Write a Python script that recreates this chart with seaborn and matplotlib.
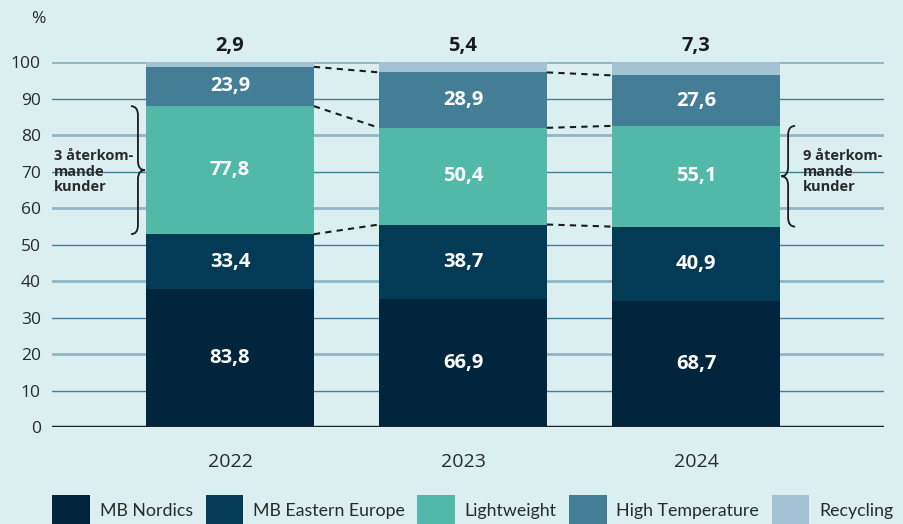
import numpy as np
import pandas as pd
import matplotlib.pyplot as plt
import seaborn as sns
from matplotlib.path import Path
from matplotlib.patches import PathPatch, Patch

# Data
years = [2022, 2023, 2024]
segments = ['MB Nordics', 'MB Eastern Europe', 'Lightweight', 'High Temperature', 'Recycling']
mb_nordics = [83.8, 66.9, 68.7]
mb_eastern = [33.4, 38.7, 40.9]
lightweight = [77.8, 50.4, 55.1]
high_temp = [23.9, 28.9, 27.6]
recycling = [2.9, 5.4, 7.3]
colors = ['#00253c', '#033a55', '#52b8a7', '#437d96', '#a3c2d3']

values = np.array([mb_nordics, mb_eastern, lightweight, high_temp, recycling])
pct = values / values.sum(axis=0) * 100
cum = np.cumsum(pct, axis=0)

rows = []
for i, seg in enumerate(segments):
    for j, yr in enumerate(years):
        rows.append({'year': yr, 'segment': seg, 'pct': pct[i, j]})
df = pd.DataFrame(rows)

bg = '#dbeff0'
txt = '#2a2a2a'
sns.set_theme(style='white')
plt.rcParams['font.family'] = ['Open Sans', 'DejaVu Sans']

fig = plt.figure(figsize=(9.04, 5.24), dpi=100, facecolor=bg)
ax = fig.add_axes([0.0575, 0.185, 0.9205, 0.6966])
ax.set_facecolor(bg)

# gridlines, alternating shade
for t in range(10, 101, 10):
    if t % 20 == 0:
        ax.axhline(t, color='#8db6c7', lw=2.0, zorder=0)
    else:
        ax.axhline(t, color='#3f7f9b', lw=1.0, zorder=0)

# stacked bars; hue order reversed so MB Nordics sits at the bottom
sns.histplot(data=df, x='year', hue='segment', weights='pct', multiple='stack',
             discrete=True, shrink=0.72, hue_order=segments[::-1],
             palette=dict(zip(segments, colors)), alpha=1, linewidth=0,
             legend=False, ax=ax, zorder=2)

ax.axhline(0, color='#222222', lw=2.5, zorder=3)

half = 0.36
# labels inside segments
for j, yr in enumerate(years):
    for i in range(4):
        mid = cum[i, j] - pct[i, j] / 2
        ax.text(yr, mid, f'{values[i, j]:.1f}'.replace('.', ','), ha='center', va='center',
                color='white', fontsize=14.5, fontweight='bold', zorder=4)
    ax.text(yr, 104.4, f'{values[4, j]:.1f}'.replace('.', ','), ha='center', va='center',
            color='#1c1c1c', fontsize=14.5, fontweight='bold', zorder=4, clip_on=False)

# dashed connectors
for j in range(len(years) - 1):
    for i in [1, 2, 3]:
        ax.plot([years[j] + half, years[j + 1] - half], [cum[i, j], cum[i, j + 1]],
                ls=(0, (3, 2.5)), color='#1c1c1c', lw=1.5, zorder=3, clip_on=False)


def brace(x, y0, y1, d, r):
    ym = (y0 + y1) / 2
    verts = [(x + d, y1), (x, y1), (x, y1 - r),
             (x, ym + r), (x, ym), (x - d, ym),
             (x, ym), (x, ym - r),
             (x, y0 + r), (x, y0), (x + d, y0)]
    codes = [Path.MOVETO, Path.CURVE3, Path.CURVE3,
             Path.LINETO, Path.CURVE3, Path.CURVE3,
             Path.CURVE3, Path.CURVE3,
             Path.LINETO, Path.CURVE3, Path.CURVE3]
    ax.add_patch(PathPatch(Path(verts, codes), fill=False, color='#1c1c1c', lw=1.3,
                           zorder=4, clip_on=False))


brace(years[0] - 0.395, cum[1, 0], cum[2, 0], -0.03, 2.5)
brace(years[2] + 0.395, cum[1, 2], cum[2, 2], 0.03, 2.5)
ax.text(years[0] - 0.755, 70, '3 återkom-\nmande\nkunder', ha='left', va='center',
        fontsize=10.5, color=txt, fontweight='bold', linespacing=1.15, zorder=5)
ax.text(years[2] + 0.46, 70, '9 återkom-\nmande\nkunder', ha='left', va='center',
        fontsize=10.5, color=txt, fontweight='bold', linespacing=1.15, zorder=5)

ax.set_xlim(years[0] - 0.764, years[0] + 2.807)
ax.set_ylim(0, 100)
ax.set_xticks(years)
ax.set_xticklabels([str(y) for y in years], fontsize=14, color=txt)
ax.set_yticks(range(0, 101, 10))
ax.set_yticklabels([str(t) for t in range(0, 101, 10)], fontsize=12.5, color=txt)
ax.tick_params(axis='x', length=0, pad=19)
ax.tick_params(axis='y', length=0, pad=8)
ax.set_xlabel('')
ax.set_ylabel('')
for s in ax.spines.values():
    s.set_visible(False)

fig.text(0.042, 0.963, '%', ha='center', va='center', fontsize=12.5, color=txt)

handles = [Patch(facecolor=c, edgecolor='none') for c in colors]
fig.legend(handles, segments, loc='center', bbox_to_anchor=(0.523, 0.025), ncol=5,
           frameon=False, prop={'family': ['Lato', 'Open Sans'], 'size': 12.8},
           handlelength=2.1, handleheight=2.3,
           columnspacing=0.72, handletextpad=0.55, labelcolor=txt)

fig.savefig('out.png', dpi=100, facecolor=bg)
